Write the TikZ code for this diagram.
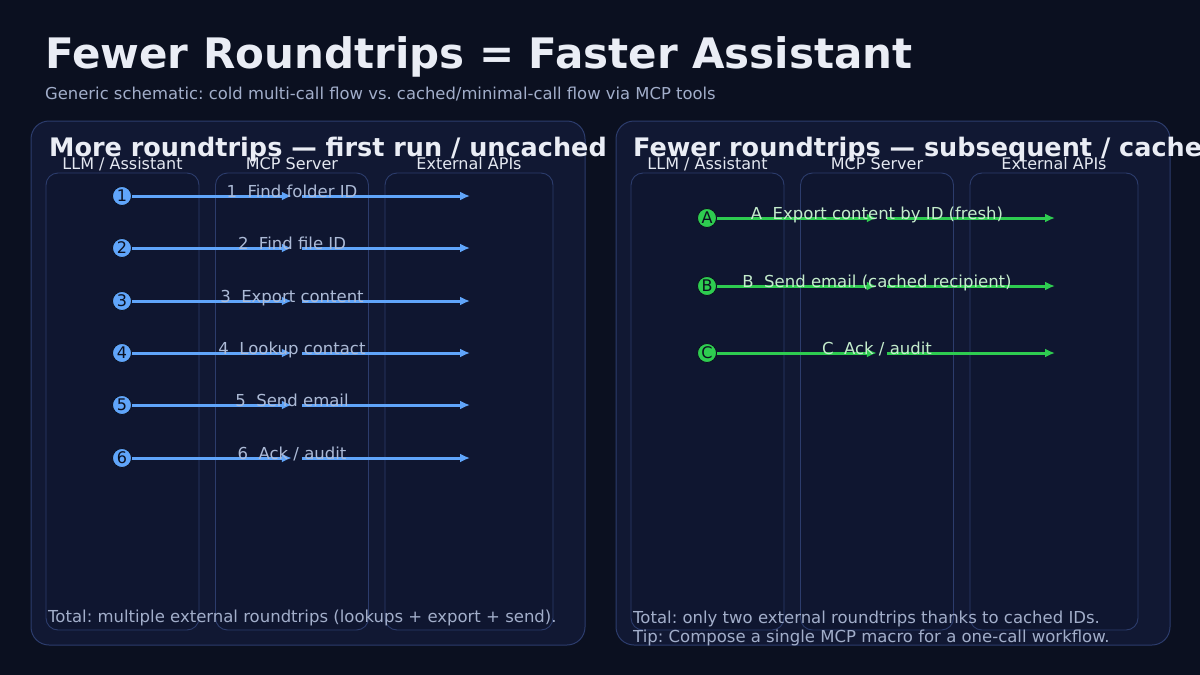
\documentclass[tikz,border=0pt]{standalone}
\usepackage{fontspec}
\setmainfont{DejaVu Sans}
\usetikzlibrary{positioning, calc, arrows.meta}
\frenchspacing

\definecolor{bgdark}{RGB}{11,16,32}
\definecolor{panelfill}{RGB}{17,24,51}
\definecolor{panelline}{RGB}{44,60,108}
\definecolor{lanefill}{RGB}{15,22,48}
\definecolor{titletext}{RGB}{234,237,245}
\definecolor{subtext}{RGB}{162,174,202}
\definecolor{flowblue}{RGB}{96,165,250}
\definecolor{flowgreen}{RGB}{46,204,80}
\definecolor{bluelabel}{RGB}{172,186,214}
\definecolor{greenlabel}{RGB}{196,236,204}

\tikzset{
    panel/.style={draw=panelline, fill=panelfill, rounded corners=18pt, line width=1pt},
    lane/.style={draw=panelline, fill=lanefill, rounded corners=12pt, line width=0.9pt,
        minimum width=153pt, minimum height=457pt, inner sep=0},
    lanetitle/.style={text=titletext!92!subtext, font=\fontsize{16}{19}\selectfont, anchor=base, inner sep=0},
    steplabel/.style={font=\fontsize{16.5}{19}\selectfont, anchor=base, inner sep=0},
    stepdot/.style={circle, inner sep=0, minimum size=19pt, draw=bgdark, line width=0.8pt,
        font=\fontsize{16}{16}\selectfont, text=bgdark},
    hop/.style={inner sep=0, minimum width=10pt, minimum height=2pt},
    callblue/.style={flowblue, line width=3pt, -{Latex[length=10pt,width=9pt]}},
    callgreen/.style={flowgreen, line width=3pt, -{Latex[length=10pt,width=9pt]}},
    footnote/.style={text=subtext, font=\fontsize{16.5}{19}\selectfont, anchor=base west, align=left, inner sep=0},
    paneltitle/.style={anchor=base west, inner sep=0, text=titletext, font=\bfseries\fontsize{25.5}{30}\selectfont},
}

\begin{document}
\begin{tikzpicture}[x=1pt, y=-1pt]

    \fill[bgdark] (0,0) rectangle (1200,675);
    \useasboundingbox (0,0) rectangle (1200,675);
    \clip (0,0) rectangle (1200,675);

    \node[anchor=base west, inner sep=0, text=titletext, font=\bfseries\fontsize{42}{46}\selectfont] (title) at (45,68) {Fewer Roundtrips = Faster Assistant};
    \node[anchor=base west, inner sep=0, text=subtext, font=\fontsize{16.4}{19}\selectfont] (subtitle) at (45,99) {Generic schematic: cold multi-call flow vs. cached/minimal-call flow via MCP tools};

    % left panel: cold run
    \draw[panel] (31,121) rectangle (585,645);
    \node[lane] (llmA) at (122.5,401.5) {};
    \node[lane] (mcpA) at (292,401.5) {};
    \node[lane, minimum width=168pt] (extA) at (469,401.5) {};
    \node[paneltitle] (titleA) at (49,156) {More roundtrips — first run / uncached};
    \node[lanetitle] at ($(llmA.north)+(0,-3)$) {LLM / Assistant};
    \node[lanetitle] at ($(mcpA.north)+(0,-3)$) {MCP Server};
    \node[lanetitle] at ($(extA.north)+(0,-3)$) {External APIs};

    \node[stepdot, fill=flowblue] (s1) at (122,196) {1};
    \node[stepdot, fill=flowblue] (s2) at (122,248) {2};
    \node[stepdot, fill=flowblue] (s3) at (122,301) {3};
    \node[stepdot, fill=flowblue] (s4) at (122,353) {4};
    \node[stepdot, fill=flowblue] (s5) at (122,405) {5};
    \node[stepdot, fill=flowblue] (s6) at (122,458) {6};

    \node[hop] (m1) at (297,196) {};
    \node[hop] (m2) at (297,248) {};
    \node[hop] (m3) at (297,301) {};
    \node[hop] (m4) at (297,353) {};
    \node[hop] (m5) at (297,405) {};
    \node[hop] (m6) at (297,458) {};

    \coordinate (e1) at (470,196);
    \coordinate (e2) at (470,248);
    \coordinate (e3) at (470,301);
    \coordinate (e4) at (470,353);
    \coordinate (e5) at (470,405);
    \coordinate (e6) at (470,458);

    \draw[callblue] (s1) -- (m1); \draw[callblue] (m1) -- (e1);
    \draw[callblue] (s2) -- (m2); \draw[callblue] (m2) -- (e2);
    \draw[callblue] (s3) -- (m3); \draw[callblue] (m3) -- (e3);
    \draw[callblue] (s4) -- (m4); \draw[callblue] (m4) -- (e4);
    \draw[callblue] (s5) -- (m5); \draw[callblue] (m5) -- (e5);
    \draw[callblue] (s6) -- (m6); \draw[callblue] (m6) -- (e6);

    \node[steplabel, text=bluelabel] at (292,197) {1\ \ Find folder ID};
    \node[steplabel, text=bluelabel] at (292,249) {2\ \ Find file ID};
    \node[steplabel, text=bluelabel] at (292,302) {3\ \ Export content};
    \node[steplabel, text=bluelabel] at (292,354) {4\ \ Lookup contact};
    \node[steplabel, text=bluelabel] at (292,406) {5\ \ Send email};
    \node[steplabel, text=bluelabel] at (292,459) {6\ \ Ack / audit};

    \node[footnote] (totalA) at (48,622) {Total: multiple external roundtrips (lookups + export + send).};

    % right panel: cached run
    \draw[panel] (616,121) rectangle (1170,645);
    \node[lane] (llmB) at (707.5,401.5) {};
    \node[lane] (mcpB) at (877,401.5) {};
    \node[lane, minimum width=168pt] (extB) at (1054,401.5) {};
    \node[paneltitle] (titleB) at (633,156) {Fewer roundtrips — subsequent / cached};
    \node[lanetitle] at ($(llmB.north)+(0,-3)$) {LLM / Assistant};
    \node[lanetitle] at ($(mcpB.north)+(0,-3)$) {MCP Server};
    \node[lanetitle] at ($(extB.north)+(0,-3)$) {External APIs};

    \node[stepdot, fill=flowgreen] (sa) at (707,218) {A};
    \node[stepdot, fill=flowgreen] (sb) at (707,286) {B};
    \node[stepdot, fill=flowgreen] (sc) at (707,353) {C};

    \node[hop] (ma) at (882,218) {};
    \node[hop] (mb) at (882,286) {};
    \node[hop] (mc) at (882,353) {};

    \coordinate (ea) at (1055,218);
    \coordinate (eb) at (1055,286);
    \coordinate (ec) at (1055,353);

    \draw[callgreen] (sa) -- (ma); \draw[callgreen] (ma) -- (ea);
    \draw[callgreen] (sb) -- (mb); \draw[callgreen] (mb) -- (eb);
    \draw[callgreen] (sc) -- (mc); \draw[callgreen] (mc) -- (ec);

    \node[steplabel, text=greenlabel] at (877,219) {A\ \ Export content by ID (fresh)};
    \node[steplabel, text=greenlabel] at (877,287) {B\ \ Send email (cached recipient)};
    \node[steplabel, text=greenlabel] at (877,354) {C\ \ Ack / audit};

    \node[footnote] (totalB) at (633,642) {Total: only two external roundtrips thanks to cached IDs.\\Tip: Compose a single MCP macro for a one-call workflow.};

\end{tikzpicture}
\end{document}
